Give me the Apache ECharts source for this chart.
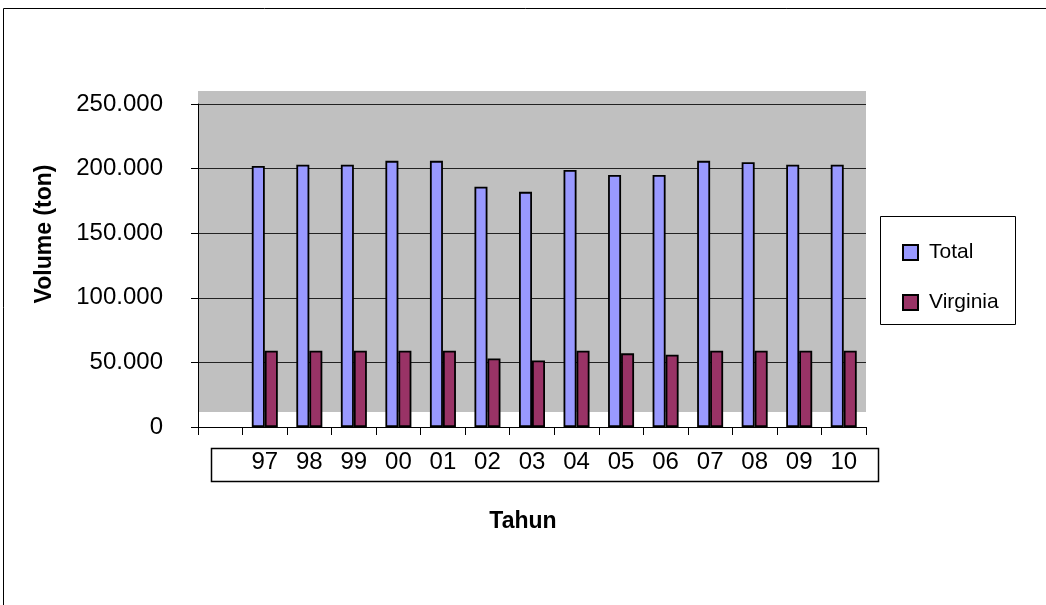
<!DOCTYPE html>
<html>
<head>
<meta charset="utf-8">
<script src="https://cdn.jsdelivr.net/npm/echarts@6/dist/echarts.min.js"></script>
<style>
  html, body { margin: 0; padding: 0; background: #fff; }
  #chart { width: 1046px; height: 605px; }
</style>
</head>
<body>
<div id="chart"></div>
<script>
// Tobacco production volume per year (ton)
const categories = ['', '97', '98', '99', '00', '01', '02', '03', '04', '05', '06', '07', '08', '09', '10'];
const totalValues = [null, 202000, 203000, 203000, 206000, 206000, 186000, 182000, 199000, 195000, 195000, 206000, 205000, 203000, 203000];
const virginiaValues = [null, 59000, 59000, 59000, 59000, 59000, 53000, 51500, 59000, 57000, 56000, 59000, 59000, 59000, 59000];
const seriesNames = ['Total', 'Virginia'];

const FONT = '"Liberation Sans", Arial, sans-serif';
const grid = { left: 198, top: 104, width: 668, height: 323 };

const fmt = v => String(v).replace(/\B(?=(\d{3})+(?!\d))/g, '.');

const chart = echarts.init(document.getElementById('chart'), null, { renderer: 'canvas' });

chart.setOption({
  animation: false,
  backgroundColor: '#ffffff',
  textStyle: { fontFamily: FONT },
  grid: grid,
  legend: {
    orient: 'vertical',
    left: 897,
    top: 237,
    z: 10,
    itemWidth: 15,
    itemHeight: 15,
    itemGap: 29,
    icon: 'rect',
    data: seriesNames,
    textStyle: { fontFamily: FONT, fontSize: 21, color: '#000', padding: [0, 0, 0, 6] }
  },
  xAxis: {
    type: 'category',
    data: categories,
    boundaryGap: true,
    axisLine: { show: true, lineStyle: { color: '#000', width: 1 } },
    axisTick: { show: true, length: 8, interval: 0, lineStyle: { color: '#000' } },
    axisLabel: { interval: 0, margin: 23, fontFamily: FONT, fontSize: 24, color: '#000' },
    splitLine: { show: false }
  },
  yAxis: {
    type: 'value',
    min: 0,
    max: 250000,
    interval: 50000,
    axisLine: { show: true, lineStyle: { color: '#000', width: 1 } },
    axisTick: { show: true, length: 7, lineStyle: { color: '#000' } },
    axisLabel: { margin: 35, fontFamily: FONT, fontSize: 24, color: '#000', formatter: fmt },
    splitLine: { show: true, lineStyle: { color: '#222', width: 1 } }
  },
  series: [
    {
      name: seriesNames[0],
      type: 'bar',
      data: totalValues,
      barWidth: 13,
      barGap: '0%',
      itemStyle: { color: '#9999FF', borderColor: '#000', borderWidth: 1.8 }
    },
    {
      name: seriesNames[1],
      type: 'bar',
      data: virginiaValues,
      barWidth: 13,
      barGap: '0%',
      itemStyle: { color: '#993366', borderColor: '#000', borderWidth: 1.8 }
    }
  ],
  graphic: [
    // outer chart frame
    { type: 'rect', z: -20, silent: true,
      shape: { x: 3.5, y: 8.5, width: 1200, height: 800 },
      style: { fill: '#fff', stroke: '#000', lineWidth: 1 } },
    // back wall (offset upward for depth)
    { type: 'rect', z: -10, silent: true,
      shape: { x: grid.left, y: grid.top - 13, width: grid.width, height: grid.height - 2 },
      style: { fill: '#C0C0C0' } },
    // frame round the category labels
    { type: 'rect', z: 1, silent: true,
      shape: { x: 211.5, y: 448.5, width: 667, height: 33 },
      style: { fill: 'none', stroke: '#000', lineWidth: 1.5 } },
    // legend frame
    { type: 'rect', z: 1, silent: true,
      shape: { x: 880.5, y: 216.5, width: 135, height: 108 },
      style: { fill: 'none', stroke: '#000', lineWidth: 1 } },
    // axis titles
    { type: 'text', z: 6, silent: true, x: 45, y: 234, rotation: Math.PI / 2,
      style: { text: 'Volume (ton)', font: 'bold 23px ' + FONT, fill: '#000',
               align: 'center', verticalAlign: 'middle' } },
    { type: 'text', z: 6, silent: true, x: 523, y: 522,
      style: { text: 'Tahun', font: 'bold 23px ' + FONT, fill: '#000',
               align: 'center', verticalAlign: 'middle' } }
  ]
});
</script>
</body>
</html>
